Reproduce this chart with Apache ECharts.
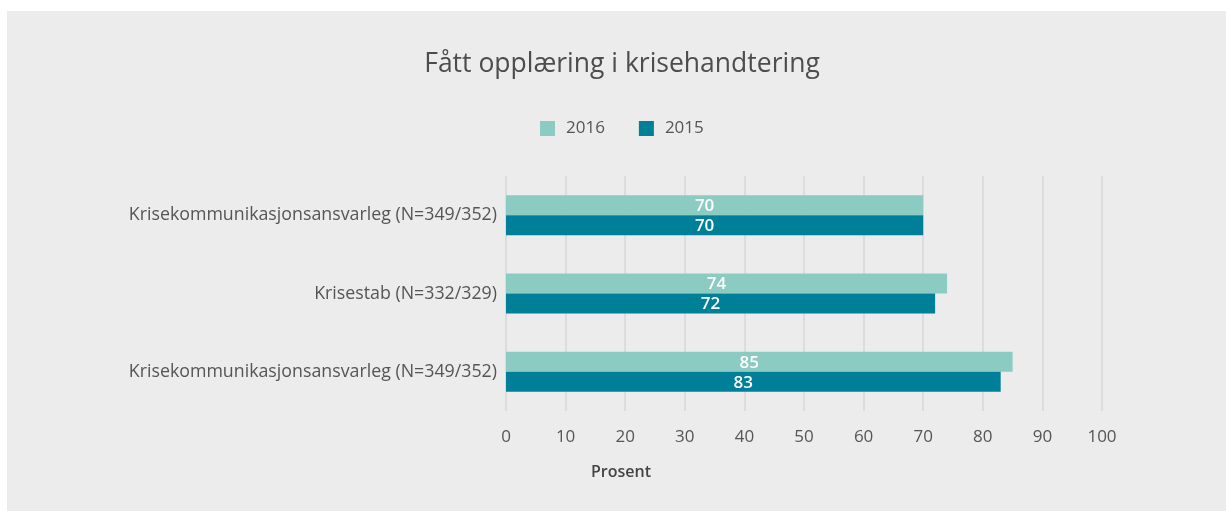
<!DOCTYPE html>
<html>
<head>
<meta charset="utf-8">
<script src="https://cdn.jsdelivr.net/npm/echarts@6/dist/echarts.min.js"></script>
<style>
  html, body { margin: 0; padding: 0; background: #fff; }
  #chart { position: absolute; left: 7px; top: 11px; width: 1219px; height: 500px; background: #ececec; }
</style>
</head>
<body>
<div id="chart"></div>
<script>
// data
var categories = [
    'Krisekommunikasjonsansvarleg (N=349/352)',
    'Krisestab (N=332/329)',
    'Krisekommunikasjonsansvarleg (N=349/352)'
];
var values2016 = [70, 74, 85];
var values2015 = [70, 72, 83];
var xTicks = { min: 0, max: 100, interval: 10 };

var font = '"Open Sans", sans-serif';
var labelStyle = {
    show: true,
    position: 'inside',
    offset: [-10, 1],
    color: '#fff',
    fontSize: 17,
    fontWeight: 600,
    fontFamily: font
};

var chart = echarts.init(document.getElementById('chart'));
chart.setOption({
    animation: false,
    textStyle: { fontFamily: font },
    title: {
        text: 'Fått opplæring i krisehandtering',
        left: 610,
        textAlign: 'center',
        top: 35,
        textStyle: { color: '#4d4d4d', fontSize: 26.5, fontWeight: 'normal', fontFamily: font }
    },
    legend: {
        top: 104,
        left: 528,
        itemWidth: 15,
        itemHeight: 15,
        itemGap: 34,
        icon: 'rect',
        textStyle: { color: '#555', fontSize: 17, fontFamily: font, padding: [0, 0, 0, 6] },
        data: ['2016', '2015']
    },
    grid: { left: 499, right: 124, top: 165, bottom: 100, containLabel: false },
    xAxis: {
        type: 'value',
        min: xTicks.min,
        max: xTicks.max,
        interval: xTicks.interval,
        axisLine: { show: false },
        axisTick: { show: false },
        axisLabel: { color: '#555', fontSize: 17, margin: 18, fontFamily: font },
        splitLine: { show: true, lineStyle: { color: '#dcdcdc', width: 2 } }
    },
    yAxis: {
        type: 'category',
        inverse: true,
        data: categories,
        axisLine: { show: false },
        axisTick: { show: false },
        axisLabel: { color: '#555', fontSize: 17.8, margin: 9, fontFamily: font }
    },
    graphic: [{
        type: 'text',
        x: 614,
        y: 461,
        style: {
            text: 'Prosent',
            fill: '#444',
            font: '600 16px ' + font,
            textAlign: 'center',
            textVerticalAlign: 'middle'
        }
    }],
    series: [{
        name: '2016',
        type: 'bar',
        data: values2016,
        barWidth: 20,
        barGap: '0%',
        itemStyle: { color: '#8bcbc1' },
        label: labelStyle
    }, {
        name: '2015',
        type: 'bar',
        data: values2015,
        barWidth: 20,
        itemStyle: { color: '#007f98' },
        label: labelStyle
    }]
});
</script>
</body>
</html>
